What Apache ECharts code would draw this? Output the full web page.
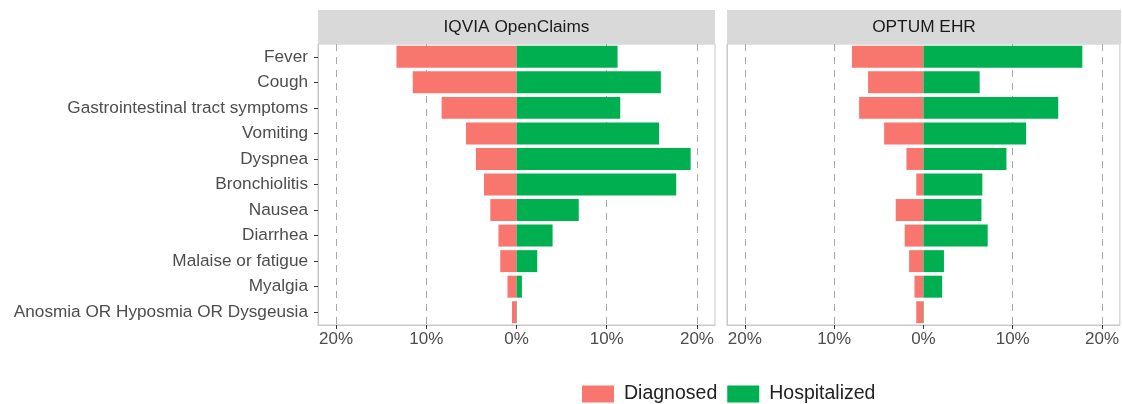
<!DOCTYPE html>
<html>
<head>
<meta charset="utf-8">
<script src="https://cdn.jsdelivr.net/npm/echarts@6/dist/echarts.min.js"></script>
<style>
html, body { margin: 0; padding: 0; background: #fff; }
#chart { width: 1122px; height: 404px; }
</style>
</head>
<body>
<div id="chart"></div>
<script>
// symptom categories, top to bottom
var categories = ['Fever', 'Cough', 'Gastrointestinal tract symptoms', 'Vomiting', 'Dyspnea',
	'Bronchiolitis', 'Nausea', 'Diarrhea', 'Malaise or fatigue', 'Myalgia',
	'Anosmia OR Hyposmia OR Dysgeusia'];
// percentages
var iqviaDiagnosed = [13.3, 11.5, 8.3, 5.6, 4.5, 3.6, 2.9, 2.0, 1.8, 1.0, 0.5];
var iqviaHospitalized = [11.2, 16.0, 11.5, 15.8, 19.3, 17.7, 6.9, 4.0, 2.3, 0.6, 0.05];
var optumDiagnosed = [8.0, 6.2, 7.2, 4.4, 1.9, 0.8, 3.1, 2.1, 1.6, 1.0, 0.8];
var optumHospitalized = [17.8, 6.3, 15.1, 11.5, 9.3, 6.6, 6.5, 7.2, 2.3, 2.1, 0.05];
var tickValues = [-20, -10, 0, 10, 20];
var gridLines = [-20, -10, 10, 20];
var panelNames = ['IQVIA OpenClaims', 'OPTUM EHR'];

var RED = '#F8766D', GREEN = '#00B050';
var FONT = 'Liberation Sans';

function neg(arr) {
	return arr.map(function (v) { return -v; });
}

var panels = [
	{ left: 318, width: 397 },
	{ left: 727, width: 394 }
];

var grids = [], xAxes = [], yAxes = [], series = [], graphics = [];

panels.forEach(function (p, i) {
	grids.push({
		left: p.left, width: p.width, top: 44, height: 281,
		show: true, borderColor: '#c8c8c8', borderWidth: 1, backgroundColor: 'transparent'
	});
	xAxes.push({
		type: 'value', gridIndex: i, min: -22, max: 22, z: 10,
		axisLine: { show: true, onZero: false, lineStyle: { color: '#c8c8c8' } },
		splitLine: { show: false },
		axisTick: { show: true, inside: false, customValues: tickValues, length: 4, lineStyle: { color: '#333', width: 1 } },
		axisLabel: {
			customValues: tickValues, color: '#4d4d4d', fontSize: 17, fontFamily: FONT, margin: 6,
			formatter: function (v) { return Math.abs(v) + '%'; }
		}
	});
	yAxes.push({
		type: 'category', gridIndex: i, data: categories, inverse: true, z: 10,
		axisLine: { show: true, onZero: false, lineStyle: { color: '#c8c8c8' } },
		axisTick: { show: i == 0, inside: false, interval: 0, length: 4, alignWithLabel: true, lineStyle: { color: '#333', width: 1 } },
		axisLabel: { show: i == 0, color: '#4d4d4d', fontSize: 17.2, fontFamily: FONT, margin: 10 }
	});
	// facet strip
	graphics.push({
		type: 'rect', left: p.left, top: 10,
		shape: { width: p.width, height: 34 },
		style: { fill: '#d9d9d9' }
	});
	graphics.push({
		type: 'text', x: p.left + p.width / 2, y: 27,
		style: {
			text: panelNames[i], fill: '#1a1a1a', fontSize: 17.3, fontFamily: FONT,
			align: 'center', verticalAlign: 'middle'
		}
	});
});

var diag = [iqviaDiagnosed, optumDiagnosed];
var hosp = [iqviaHospitalized, optumHospitalized];

for (var i = 0; i < 2; i++) {
	series.push({
		name: 'Diagnosed', type: 'bar', xAxisIndex: i, yAxisIndex: i,
		data: neg(diag[i]), barGap: '-100%', barCategoryGap: '14%',
		itemStyle: { color: RED },
		markLine: {
			silent: true, symbol: 'none', z: 1,
			label: { show: false },
			lineStyle: { color: '#a8a8a8', type: [7, 6], width: 1 },
			data: gridLines.map(function (v) { return { xAxis: v }; })
		}
	});
	series.push({
		name: 'Hospitalized', type: 'bar', xAxisIndex: i, yAxisIndex: i,
		data: hosp[i], barGap: '-100%', barCategoryGap: '14%',
		itemStyle: { color: GREEN }
	});
}

var chart = echarts.init(document.getElementById('chart'));
chart.setOption({
	animation: false,
	textStyle: { fontFamily: FONT },
	legend: {
		data: ['Diagnosed', 'Hospitalized'],
		left: 577, top: 379,
		itemWidth: 32, itemHeight: 17, itemGap: 10,
		icon: 'rect',
		textStyle: { fontSize: 19.5, color: '#222', fontFamily: FONT, padding: [0, 0, 0, 5] }
	},
	graphic: graphics,
	grid: grids,
	xAxis: xAxes,
	yAxis: yAxes,
	series: series
});
</script>
</body>
</html>
